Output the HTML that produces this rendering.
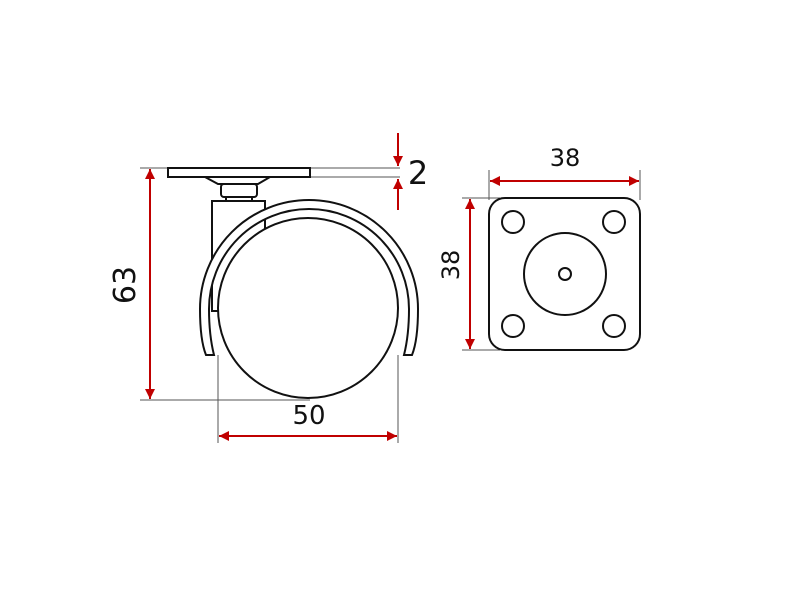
<!DOCTYPE html>
<html><head><style>body{margin:0;background:#fff}svg{display:block}</style></head><body>
<svg width="800" height="600" viewBox="0 0 800 600" xmlns="http://www.w3.org/2000/svg">
<defs>
<marker id="a" viewBox="0 0 10 10" refX="10" refY="5" markerWidth="5" markerHeight="5" orient="auto-start-reverse"><path d="M0,0L10,5L0,10z" fill="#c00000"/></marker>
</defs>
<g fill="none" stroke="#555" stroke-width="1">
<line x1="140" y1="168" x2="400" y2="168"/>
<line x1="310" y1="177" x2="400" y2="177"/>
<line x1="140" y1="400" x2="310" y2="400"/>
<line x1="218" y1="355" x2="218" y2="443"/>
<line x1="398" y1="355" x2="398" y2="443"/>
<line x1="489" y1="170" x2="489" y2="200"/>
<line x1="640" y1="170" x2="640" y2="200"/>
<line x1="462" y1="198" x2="500" y2="198"/>
<line x1="462" y1="350" x2="500" y2="350"/>
</g>
<g fill="none" stroke="#c00000" stroke-width="2">
<line x1="150" y1="169" x2="150" y2="399" marker-start="url(#a)" marker-end="url(#a)"/>
<line x1="219" y1="436" x2="397" y2="436" marker-start="url(#a)" marker-end="url(#a)"/>
<line x1="398" y1="133" x2="398" y2="166" marker-end="url(#a)"/>
<line x1="398" y1="210" x2="398" y2="179" marker-end="url(#a)"/>
<line x1="490" y1="181" x2="639" y2="181" marker-start="url(#a)" marker-end="url(#a)"/>
<line x1="470" y1="199" x2="470" y2="349" marker-start="url(#a)" marker-end="url(#a)"/>
</g>
<g fill="#fff" stroke="#111" stroke-width="2">
<rect x="168" y="168" width="142" height="9"/>
<path d="M205,177 L270,177 L258,184 L218,184 Z"/>
<rect x="221" y="184" width="36" height="13" rx="3"/>
<rect x="226" y="197" width="26" height="4"/>
<rect x="212" y="201" width="53" height="110"/>
<circle cx="308" cy="308" r="90"/>
<path d="M200,309 A109,109 0 0 1 418,309 Q418,340 412,355 L404,355 Q409,335 409,309 A100,100 0 0 0 209,309 Q209,335 214,355 L206,355 Q200,340 200,309 Z"/>
<rect x="489" y="198" width="151" height="152" rx="16"/>
<circle cx="513" cy="222" r="11"/>
<circle cx="614" cy="222" r="11"/>
<circle cx="513" cy="326" r="11"/>
<circle cx="614" cy="326" r="11"/>
<circle cx="565" cy="274" r="41"/>
<circle cx="565" cy="274" r="6"/>
</g>
<g font-family="'DejaVu Sans','Liberation Sans',sans-serif" fill="#111">
<text x="309" y="424" font-size="26" text-anchor="middle">50</text>
<text x="418" y="184" font-size="32" text-anchor="middle">2</text>
<text x="565" y="166" font-size="24" text-anchor="middle">38</text>
<text transform="translate(135,285) rotate(-90)" font-size="30" text-anchor="middle">63</text>
<text transform="translate(459,265) rotate(-90)" font-size="24" text-anchor="middle">38</text>
</g>
</svg>
</body></html>
